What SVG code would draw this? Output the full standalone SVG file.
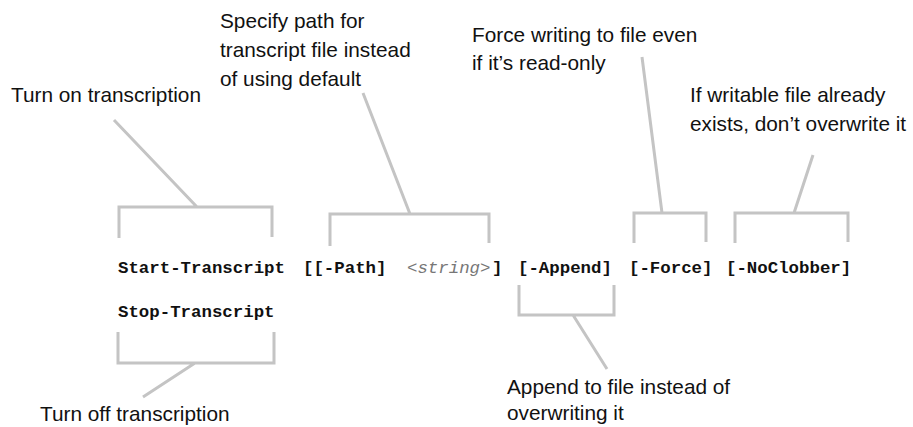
<svg xmlns="http://www.w3.org/2000/svg" width="913" height="427" viewBox="0 0 913 427">
<style>
.lbl{font-family:"Liberation Sans",Arial,sans-serif;font-size:20.8px;fill:#111}
.code{font-family:"Liberation Mono","Courier New",monospace;font-size:17.4px;font-weight:bold;fill:#111}
.arg{font-family:"Liberation Mono","Courier New",monospace;font-size:17.4px;font-style:italic;fill:#777}
.ln{fill:none;stroke:#c4c4c4;stroke-width:3}
</style>
<rect width="913" height="427" fill="#fff"/>
<g id="code">
<text class="code" x="118" y="273">Start-Transcript</text>
<text class="code" x="303" y="273">[[-Path]</text>
<text class="arg" x="407" y="273">&lt;string&gt;</text>
<text class="code" x="492" y="273">]</text>
<text class="code" x="518" y="273">[-Append]</text>
<text class="code" x="629" y="273">[-Force]</text>
<text class="code" x="726" y="273">[-NoClobber]</text>
<text class="code" x="118" y="317">Stop-Transcript</text>
</g>
<g id="n-start"><text class="lbl" x="11" y="102">Turn on transcription</text></g>
<g id="n-path"><text class="lbl" x="220" y="28">Specify path for</text><text class="lbl" x="220" y="57">transcript file instead</text><text class="lbl" x="220" y="86">of using default</text></g>
<g id="n-force"><text class="lbl" x="472" y="42">Force writing to file even</text><text class="lbl" x="472" y="70">if it’s read-only</text></g>
<g id="n-noclobber"><text class="lbl" x="690" y="102">If writable file already</text><text class="lbl" x="690" y="131">exists, don’t overwrite it</text></g>
<g id="n-append"><text class="lbl" x="507" y="394">Append to file instead of</text><text class="lbl" x="507" y="420">overwriting it</text></g>
<g id="n-stop"><text class="lbl" x="40" y="421">Turn off transcription</text></g>
<g id="connectors">
<path class="ln" d="M119,238 V207 H272 V237 M197,207 L114,120"/>
<path class="ln" d="M330,246 V214 H489 V243 M410,214 L363,93"/>
<path class="ln" d="M634,243 V213 H706 V242 M662,213 L642,57"/>
<path class="ln" d="M735,243 V213 H848 V242 M794,213 L813,155"/>
<path class="ln" d="M519,285 V315 H614 V285 M573,315 L607,369"/>
<path class="ln" d="M118,332 V363 H274 V332 M195,363 L143,397"/>
</g>
</svg>
